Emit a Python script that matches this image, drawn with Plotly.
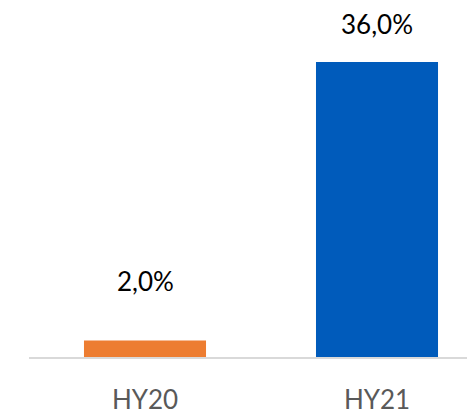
import plotly.graph_objects as go

categories = ["HY20", "HY21"]
values = [2.0, 36.0]
labels = ["2,0%", "36,0%"]
colors = ["#ED7D31", "#005BBB"]
label_shifts = [60, 38]

fig = go.Figure()
fig.add_trace(go.Bar(
    x=categories, y=values, marker=dict(color=colors, line=dict(width=0)),
    width=0.526, hoverinfo="skip"
))

for c, v, t, s in zip(categories, values, labels, label_shifts):
    fig.add_annotation(x=c, y=v, text=t, showarrow=False, yshift=s,
                       yanchor="middle", font=dict(family="Lato", size=26, color="#000000"))

# page body adds an 8px margin, so the figure is 8px smaller and shifted
fig.update_layout(
    width=467, height=404,
    margin=dict(l=21, r=0, t=0, b=55, pad=0, autoexpand=False),
    paper_bgcolor="white", plot_bgcolor="white",
    showlegend=False,
    xaxis=dict(range=[-0.5, 1.4224], showline=True, linecolor="#D9D9D9", linewidth=2,
               showgrid=False, zeroline=False, ticks="", automargin=False,
               ticklabelstandoff=19,
               tickfont=dict(family="Lato", size=26, color="#595959")),
    yaxis=dict(range=[0, 42.6], visible=False, showgrid=False, zeroline=False, automargin=False),
)

fig.write_html("out.html")
